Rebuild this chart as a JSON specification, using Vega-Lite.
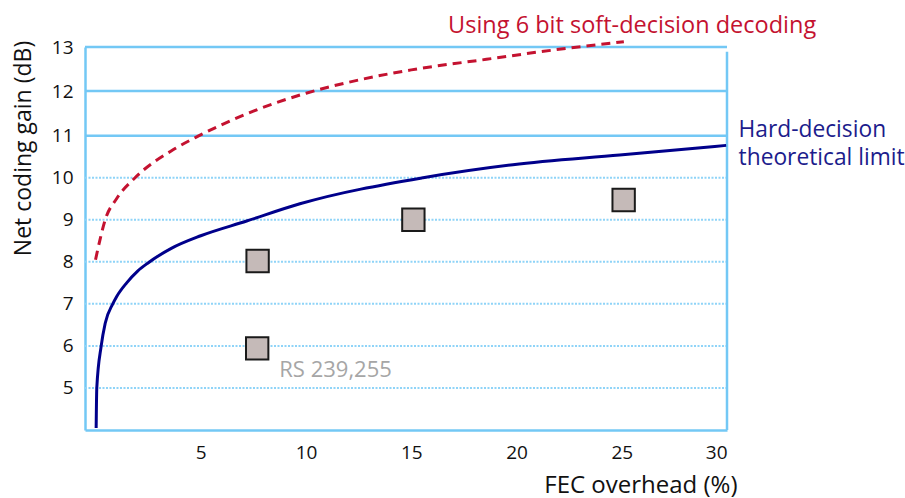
{
  "$schema": "https://vega.github.io/schema/vega-lite/v6.json",
  "width": 642,
  "height": 383,
  "autosize": "none",
  "padding": {"left": 85, "top": 47, "right": 178, "bottom": 68},
  "background": "white",
  "config": {"view": {"stroke": null}, "font": "Open Sans"},
  "datasets": {
    "hard": [
      {"x": 0.03, "y": 4.05}, {"x": 0.06, "y": 5.0}, {"x": 0.27, "y": 6.0}, {"x": 0.46, "y": 6.54},
      {"x": 0.82, "y": 7.0}, {"x": 1.0, "y": 7.17}, {"x": 1.48, "y": 7.5}, {"x": 2.0, "y": 7.78},
      {"x": 2.51, "y": 7.98}, {"x": 3.6, "y": 8.32}, {"x": 5.0, "y": 8.62}, {"x": 7.18, "y": 8.97},
      {"x": 9.71, "y": 9.38}, {"x": 15.56, "y": 10.0}, {"x": 19.83, "y": 10.31}, {"x": 24.9, "y": 10.54},
      {"x": 29.96, "y": 10.77}
    ],
    "soft": [
      {"x": 0.0, "y": 8.05}, {"x": 0.2, "y": 8.5}, {"x": 0.46, "y": 9.0}, {"x": 1.0, "y": 9.5},
      {"x": 1.88, "y": 10.0}, {"x": 3.7, "y": 10.67}, {"x": 4.92, "y": 11.0}, {"x": 7.5, "y": 11.55},
      {"x": 10.0, "y": 11.95}, {"x": 12.5, "y": 12.25}, {"x": 15.0, "y": 12.48}, {"x": 18.57, "y": 12.72},
      {"x": 21.73, "y": 12.93}, {"x": 25.1, "y": 13.12}
    ],
    "rs": [
      {"x": 7.7, "y": 8.02}, {"x": 7.68, "y": 5.94}, {"x": 15.1, "y": 9.0}, {"x": 25.09, "y": 9.47}
    ],
    "gridSolid": [{"y": 11}, {"y": 12}, {"y": 13}],
    "gridDot": [{"y": 5}, {"y": 6}, {"y": 7}, {"y": 8}, {"y": 9}, {"y": 10}],
    "xticks": [{"x": 5}, {"x": 10}, {"x": 15}, {"x": 20}, {"x": 25}],
    "labels": [
      {"x": 16.75, "y": 13.32, "text": ["Using 6 bit soft-decision decoding"], "series": "soft"},
      {"x": 30.55, "y": 10.97, "text": ["Hard-decision", "theoretical limit"], "series": "hard"},
      {"x": 8.73, "y": 5.25, "text": ["RS 239,255"], "series": "rs"}
    ]
  },
  "encoding": {
    "x": {
      "field": "x", "type": "quantitative",
      "scale": {"domain": [-0.5, 30], "nice": false, "zero": false},
      "axis": {
        "values": [5, 10, 15, 20, 25, 30], "grid": false, "ticks": false, "tickSize": 0,
        "domainColor": "#73c8f5", "domainWidth": 2.5,
        "labelFontSize": 19, "labelColor": "#111111", "labelPadding": 13,
        "labelFont": "Open Sans",
        "title": "FEC overhead (%)", "titleFontSize": 24, "titleFontWeight": "normal",
        "titleColor": "#111111", "titleFont": "Open Sans",
        "titleAnchor": "end", "titleAlign": "right", "titleX": 652, "titleY": 62, "titleBaseline": "alphabetic"
      }
    },
    "y": {
      "field": "y", "type": "quantitative",
      "scale": {"domain": [4, 11, 12, 13], "range": [383, 88.7, 44, 0], "nice": false, "zero": false},
      "axis": {
        "values": [5, 6, 7, 8, 9, 10, 11, 12, 13], "grid": false, "ticks": false, "tickSize": 0,
        "domainColor": "#73c8f5", "domainWidth": 2.5,
        "labelFontSize": 19, "labelColor": "#111111", "labelPadding": 12,
        "labelFont": "Open Sans",
        "title": "Net coding gain (dB)", "titleFontSize": 23, "titleFontWeight": "normal",
        "titleColor": "#111111", "titleFont": "Open Sans",
        "titleAngle": -90, "titleAlign": "center", "titleX": -55, "titleY": 101, "titleBaseline": "alphabetic"
      }
    }
  },
  "layer": [
    {
      "data": {"name": "gridDot"},
      "mark": {"type": "rule", "color": "#8fd4f8", "strokeWidth": 2, "strokeDash": [2, 1.5]},
      "encoding": {"x": {"value": 0}, "x2": {"value": 642}}
    },
    {
      "data": {"name": "gridSolid"},
      "mark": {"type": "rule", "color": "#73c8f5", "strokeWidth": 2.5},
      "encoding": {"x": {"value": 0}, "x2": {"value": 642}}
    },
    {
      "data": {"values": [{"x": 30, "y": 4, "y2": 12.89}]},
      "mark": {"type": "rule", "color": "#73c8f5", "strokeWidth": 2.5},
      "encoding": {"y2": {"field": "y2"}}
    },
    {
      "data": {"name": "xticks"},
      "mark": {"type": "rule", "color": "#73c8f5", "strokeWidth": 2},
      "encoding": {"y": {"datum": 4}, "y2": {"datum": 4.25}}
    },
    {
      "data": {"name": "soft"},
      "mark": {"type": "line", "color": "#c41230", "strokeWidth": 3, "strokeDash": [9, 6], "interpolate": "monotone"},
      "encoding": {"order": {"field": "x"}}
    },
    {
      "data": {"name": "hard"},
      "mark": {"type": "line", "color": "#00008b", "strokeWidth": 3, "interpolate": "monotone"},
      "encoding": {"order": {"field": "x"}}
    },
    {
      "data": {"name": "rs"},
      "mark": {"type": "point", "shape": "square", "filled": true, "size": 500, "fill": "#c5bab8", "stroke": "#1a1a1a", "strokeWidth": 2, "opacity": 1},
      "encoding": {}
    },
    {
      "data": {"name": "labels"},
      "mark": {"type": "text", "align": "left", "baseline": "alphabetic", "font": "Open Sans", "lineHeight": 28},
      "encoding": {
        "text": {"field": "text"},
        "size": {"field": "series", "type": "nominal", "scale": {"domain": ["soft", "hard", "rs"], "range": [23.5, 22, 25]}, "legend": null},
        "color": {"field": "series", "type": "nominal", "scale": {"domain": ["soft", "hard", "rs"], "range": ["#c41230", "#1c1c8c", "#a6a6a6"]}, "legend": null}
      }
    }
  ]
}
